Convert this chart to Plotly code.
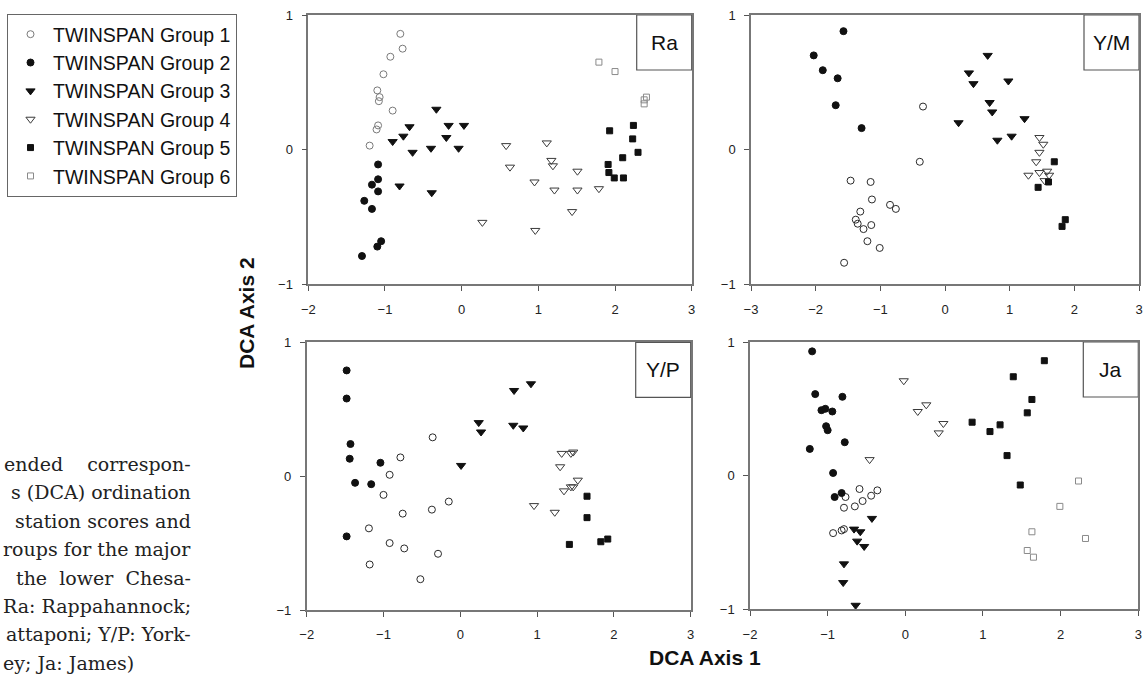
import plotly.graph_objects as go

W, H = 1146, 681

# ---------------- data (DCA axis 1 = x, DCA axis 2 = y) ----------------
panel_names = ["Ra", "Y/M", "Y/P", "Ja"]
group_names = ["TWINSPAN Group 1", "TWINSPAN Group 2", "TWINSPAN Group 3",
               "TWINSPAN Group 4", "TWINSPAN Group 5", "TWINSPAN Group 6"]

# Ra: Rappahannock
ra_g1_x = [-0.80, -0.77, -0.93, -1.02, -1.10, -1.07, -1.08, -0.90, -1.09, -1.11, -1.20]
ra_g1_y = [0.86, 0.75, 0.69, 0.56, 0.44, 0.39, 0.36, 0.29, 0.18, 0.15, 0.03]
ra_g2_x = [-1.09, -1.17, -1.09, -1.09, -1.27, -1.17, -1.05, -1.10, -1.30]
ra_g2_y = [-0.11, -0.26, -0.22, -0.31, -0.38, -0.44, -0.68, -0.72, -0.79]
ra_g3_x = [-0.33, -0.68, -0.17, 0.03, -0.76, -0.20, -0.90, -0.64, -0.40, -0.04, -0.81, -0.39]
ra_g3_y = [0.30, 0.17, 0.18, 0.18, 0.10, 0.09, 0.06, -0.02, 0.01, 0.01, -0.27, -0.32]
ra_g4_x = [0.58, 0.63, 1.11, 1.17, 1.19, 0.95, 1.21, 1.51, 1.51, 1.79, 1.44, 0.27, 0.96]
ra_g4_y = [0.03, -0.13, 0.05, -0.08, -0.12, -0.24, -0.30, -0.16, -0.30, -0.29, -0.46, -0.54, -0.60]
ra_g5_x = [1.93, 2.24, 2.23, 2.30, 2.10, 1.91, 1.92, 1.99, 2.11]
ra_g5_y = [0.14, 0.18, 0.08, -0.02, -0.06, -0.11, -0.17, -0.21, -0.21]
ra_g6_x = [1.79, 2.00, 2.41, 2.38, 2.38]
ra_g6_y = [0.65, 0.58, 0.39, 0.37, 0.34]

# Y/M: York / Mattaponi
ym_g1_x = [-0.34, -0.39, -1.46, -1.15, -1.13, -0.85, -0.76, -1.31, -1.38, -1.35, -1.26, -1.14, -1.20, -1.01, -1.56]
ym_g1_y = [0.32, -0.09, -0.23, -0.24, -0.37, -0.41, -0.44, -0.46, -0.52, -0.55, -0.59, -0.56, -0.68, -0.73, -0.84]
ym_g2_x = [-1.57, -2.03, -1.89, -1.66, -1.69, -1.29]
ym_g2_y = [0.88, 0.70, 0.59, 0.53, 0.33, 0.16]
ym_g3_x = [0.66, 0.37, 0.44, 0.98, 0.69, 0.73, 1.23, 0.21, 0.81, 1.03]
ym_g3_y = [0.70, 0.57, 0.49, 0.51, 0.35, 0.28, 0.23, 0.20, 0.07, 0.10]
ym_g4_x = [1.46, 1.52, 1.46, 1.41, 1.29, 1.46, 1.58, 1.61, 1.54]
ym_g4_y = [0.09, 0.04, -0.02, -0.09, -0.19, -0.17, -0.16, -0.19, -0.23]
ym_g5_x = [1.69, 1.60, 1.44, 1.86, 1.81]
ym_g5_y = [-0.09, -0.24, -0.28, -0.52, -0.57]

# Y/P: York / Pamunkey
yp_g1_x = [-0.36, -0.78, -0.92, -1.00, -0.15, -0.37, -0.75, -1.19, -0.92, -0.73, -0.29, -1.18, -0.52]
yp_g1_y = [0.29, 0.14, 0.01, -0.14, -0.19, -0.25, -0.28, -0.39, -0.50, -0.54, -0.58, -0.66, -0.77]
yp_g2_x = [-1.48, -1.48, -1.43, -1.44, -1.04, -1.37, -1.16, -1.48]
yp_g2_y = [0.79, 0.58, 0.24, 0.13, 0.10, -0.05, -0.06, -0.45]
yp_g3_x = [0.92, 0.70, 0.24, 0.27, 0.69, 0.82, 0.01]
yp_g3_y = [0.69, 0.64, 0.40, 0.33, 0.38, 0.36, 0.08]
yp_g4_x = [1.32, 1.44, 1.47, 1.30, 1.53, 1.35, 1.44, 1.47, 0.96, 1.23]
yp_g4_y = [0.17, 0.17, 0.18, 0.07, -0.03, -0.11, -0.08, -0.08, -0.22, -0.27]
yp_g5_x = [1.65, 1.65, 1.42, 1.83, 1.92]
yp_g5_y = [-0.15, -0.31, -0.51, -0.49, -0.47]

# Ja: James
ja_g1_x = [-0.59, -0.36, -0.44, -0.55, -0.77, -0.79, -0.65, -0.93, -0.82, -0.79]
ja_g1_y = [-0.10, -0.11, -0.15, -0.19, -0.16, -0.24, -0.23, -0.43, -0.41, -0.40]
ja_g2_x = [-1.20, -1.16, -0.81, -1.08, -1.03, -0.94, -1.02, -1.00, -0.78, -1.23, -0.93, -0.91, -0.82]
ja_g2_y = [0.93, 0.61, 0.59, 0.49, 0.50, 0.48, 0.37, 0.34, 0.25, 0.20, 0.02, -0.16, -0.13]
ja_g3_x = [-0.43, -0.66, -0.58, -0.62, -0.53, -0.79, -0.80, -0.64]
ja_g3_y = [-0.32, -0.40, -0.42, -0.49, -0.53, -0.66, -0.80, -0.97]
ja_g4_x = [-0.02, 0.16, 0.27, 0.49, 0.43, -0.46]
ja_g4_y = [0.71, 0.48, 0.53, 0.39, 0.32, 0.12]
ja_g5_x = [1.79, 1.39, 1.63, 1.57, 0.86, 1.22, 1.09, 1.31, 1.48]
ja_g5_y = [0.86, 0.74, 0.57, 0.47, 0.40, 0.38, 0.33, 0.15, -0.07]
ja_g6_x = [2.23, 1.99, 1.63, 2.32, 1.57, 1.65]
ja_g6_y = [-0.04, -0.23, -0.42, -0.47, -0.56, -0.61]

x_ranges = [[-2, 3], [-3, 3], [-2, 3], [-2, 3]]
y_range = [-1, 1]

caption_lines = ["ended\u00a0\u00a0\u00a0\u00a0correspon-", "s (DCA) ordination",
                 "station scores and", "roups for the major",
                 "the\u00a0\u00a0lower\u00a0\u00a0Chesa-", "Ra: Rappahannock;",
                 "attaponi; Y/P: York-", "ey; Ja: James)"]

panels = [
    [(ra_g1_x, ra_g1_y), (ra_g2_x, ra_g2_y), (ra_g3_x, ra_g3_y),
     (ra_g4_x, ra_g4_y), (ra_g5_x, ra_g5_y), (ra_g6_x, ra_g6_y)],
    [(ym_g1_x, ym_g1_y), (ym_g2_x, ym_g2_y), (ym_g3_x, ym_g3_y),
     (ym_g4_x, ym_g4_y), (ym_g5_x, ym_g5_y), None],
    [(yp_g1_x, yp_g1_y), (yp_g2_x, yp_g2_y), (yp_g3_x, yp_g3_y),
     (yp_g4_x, yp_g4_y), (yp_g5_x, yp_g5_y), None],
    [(ja_g1_x, ja_g1_y), (ja_g2_x, ja_g2_y), (ja_g3_x, ja_g3_y),
     (ja_g4_x, ja_g4_y), (ja_g5_x, ja_g5_y), (ja_g6_x, ja_g6_y)],
]

# ---------------- styles ----------------
symbols = ["circle-open", "circle", "triangle-down", "triangle-down-open", "square", "square-open"]
colors = ["#2a2a2a", "#111111", "#111111", "#3a3a3a", "#111111", "#8a8a8a"]
ra_g1_color = "#7a7a7a"
sizes = [7, 7, 8, 8, 6, 6]

# panel pixel boxes: (left, right, top, bottom)
boxes = [(308.3, 691.7, 15, 284.3), (751, 1139, 15, 284.3),
         (306.7, 690.7, 342.3, 610), (750, 1138.3, 342, 609.3)]

fig = go.Figure()
for p, groups in enumerate(panels):
    ax = "" if p == 0 else str(p + 1)
    for g, data in enumerate(groups):
        if data is None:
            continue
        xs, ys = data
        c = ra_g1_color if (p == 0 and g == 0) else colors[g]
        fig.add_trace(go.Scatter(
            x=xs, y=ys, mode="markers", name=group_names[g],
            legendgroup=group_names[g], showlegend=(p == 0),
            xaxis="x" + ax, yaxis="y" + ax,
            marker=dict(symbol=symbols[g], size=sizes[g], color=c,
                        line=dict(width=1, color=c)),
        ))

layout = dict(width=W, height=H, margin=dict(l=0, r=0, t=0, b=0, autoexpand=False),
              paper_bgcolor="white", plot_bgcolor="white",
              font=dict(family="Arial, Liberation Sans, sans-serif", color="#111"))
axis_common = dict(showgrid=False, zeroline=False, showline=True, mirror=True,
                   linecolor="#777", linewidth=1.5, ticks="outside", ticklen=5,
                   tickcolor="#555", tickwidth=1, dtick=1, automargin=False,
                   tickfont=dict(size=13, color="#222", family="Arial"))
shapes = []
annotations = []
for p, (l, r, t, b) in enumerate(boxes):
    ax = "" if p == 0 else str(p + 1)
    layout["xaxis" + ax] = dict(axis_common, range=x_ranges[p], ticklabelstandoff=7,
                                domain=[l / W, r / W], anchor="y" + ax)
    layout["yaxis" + ax] = dict(axis_common, range=y_range, ticklabelstandoff=6,
                                domain=[1 - b / H, 1 - t / H], anchor="x" + ax)
    bw = 55 / (r - l)
    bh = 55 / (b - t)
    shapes.append(dict(type="rect", xref="x" + ax + " domain", yref="y" + ax + " domain",
                       x0=1 - bw, x1=1, y0=1 - bh, y1=1,
                       line=dict(color="#555", width=1.2), fillcolor="white", layer="below"))
    annotations.append(dict(text=panel_names[p], xref="x" + ax + " domain",
                            yref="y" + ax + " domain", x=1 - bw / 2, y=1 - bh / 2,
                            showarrow=False, font=dict(size=21, color="#111", family="Arial"),
                            xanchor="center", yanchor="middle"))

annotations.append(dict(text="<b>DCA Axis 2</b>", xref="paper", yref="paper",
                        x=246 / W, y=1 - 313 / H, textangle=-90, showarrow=False,
                        xanchor="center", yanchor="middle",
                        font=dict(size=21, color="#111", family="Arial")))
annotations.append(dict(text="<b>DCA Axis 1</b>", xref="paper", yref="paper",
                        x=705 / W, y=1 - 657 / H, showarrow=False,
                        xanchor="center", yanchor="middle",
                        font=dict(size=21, color="#111", family="Arial")))

for i, line in enumerate(caption_lines):
    last = i == len(caption_lines) - 1
    annotations.append(dict(text=line, xref="paper", yref="paper",
                            x=(1 if last else 193) / W, y=1 - (464 + 28.4 * i) / H,
                            xanchor="left" if last else "right", yanchor="middle",
                            showarrow=False,
                            font=dict(size=19, color="#222", family="DejaVu Serif")))

layout["shapes"] = shapes
layout["annotations"] = annotations
layout["legend"] = dict(x=7 / W, y=1 - 14 / H, xanchor="left", yanchor="top",
                        bordercolor="#666", borderwidth=1, bgcolor="white",
                        font=dict(size=19.5, color="#111", family="Arial"),
                        tracegroupgap=7, traceorder="normal", itemwidth=35)
fig.update_layout(**layout)
fig.write_html("out.html", config={"displayModeBar": False},
               post_script="document.body.style.margin='0px';document.body.style.overflow='hidden';")
